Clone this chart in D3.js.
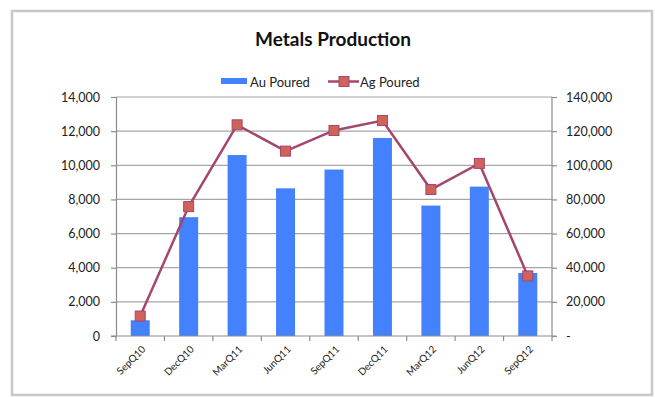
<!DOCTYPE html>
<html><head><meta charset="utf-8">
<script src="https://cdn.jsdelivr.net/npm/d3@7"></script>
<style>
html,body{margin:0;padding:0;background:#fff;}
svg{display:block;font-family:Lato,"Open Sans",sans-serif;}
</style></head>
<body><svg id="c" width="655" height="397"></svg>
<script>
const categories = ["SepQ10","DecQ10","MarQ11","JunQ11","SepQ11","DecQ11","MarQ12","JunQ12","SepQ12"];
const auPoured = [920, 6960, 10600, 8650, 9750, 11600, 7640, 8750, 3690];
const agPoured = [11700, 75800, 123700, 108300, 120400, 126200, 85800, 101100, 35200];
const leftTicks = [0,2000,4000,6000,8000,10000,12000,14000];
const rightTicks = [0,20000,40000,60000,80000,100000,120000,140000];
const title = "Metals Production";
const seriesNames = ["Au Poured","Ag Poured"];

const svg = d3.select("#c");
const m = {l:116, r:552, t:97, b:336};
const barColor = "#4381fd", lineColor = "#a4466e", markerFill = "#cf6359";

// chart border
svg.append("rect").attr("x",12).attr("y",11).attr("width",640).attr("height",384)
  .attr("fill","#fff").attr("stroke","#c8c8c8").attr("stroke-width",2.5);

const xb = d3.scaleBand().domain(categories).range([m.l,m.r]);
const yL = d3.scaleLinear().domain([0,14000]).range([m.b,m.t]);
const yR = d3.scaleLinear().domain([0,140000]).range([m.b,m.t]);

// gridlines
svg.append("g").selectAll("line").data(leftTicks.slice(1)).join("line")
  .attr("x1",m.l).attr("x2",m.r).attr("y1",d=>yL(d)).attr("y2",d=>yL(d))
  .attr("stroke","#a6a6a6").attr("stroke-width",1.2);

const fmt = d3.format(",");
// left axis
const gl = svg.append("g").attr("transform",`translate(${m.l},0)`)
  .call(d3.axisLeft(yL).tickValues(leftTicks).tickFormat(fmt).tickSize(5).tickPadding(11));
// right axis
const gr = svg.append("g").attr("transform",`translate(${m.r},0)`)
  .call(d3.axisRight(yR).tickValues(rightTicks).tickFormat(d=>d===0?"-":fmt(d)).tickSize(5).tickPadding(9));
[gl,gr].forEach(g=>{
  g.selectAll("path,line").attr("stroke","#8c8c8c").attr("stroke-width",1.2);
  g.selectAll("text").attr("fill","#222").style("font-size","12.5px").style("font-family","Lato,'Open Sans',sans-serif");
});
gr.select(".domain").remove();
svg.append("line").attr("x1",m.r).attr("x2",m.r).attr("y1",m.t).attr("y2",m.b).attr("stroke","#8c8c8c").attr("stroke-width",1.2);

// bars
svg.append("g").selectAll("rect").data(auPoured).join("rect")
  .attr("x",(d,i)=>xb(categories[i])+xb.bandwidth()/2-9.5)
  .attr("width",19)
  .attr("y",d=>yL(d)).attr("height",d=>m.b-yL(d))
  .attr("fill",barColor);

// x axis
const gx = svg.append("g").attr("transform",`translate(0,${m.b})`);
gx.append("line").attr("x1",m.l-5).attr("x2",m.r+4).attr("stroke","#8c8c8c").attr("stroke-width",1.2);
const boundaries = d3.range(categories.length+1).map(i=>m.l+i*xb.step());
gx.selectAll("line.t").data(boundaries).join("line").attr("class","t")
  .attr("x1",d=>d).attr("x2",d=>d).attr("y1",0).attr("y2",5).attr("stroke","#8c8c8c").attr("stroke-width",1.2);
gx.selectAll("text").data(categories).join("text")
  .attr("transform",d=>`translate(${xb(d)+xb.bandwidth()/2+6},${14}) rotate(-45)`)
  .attr("text-anchor","end").attr("fill","#222")
  .style("font-size","10px").text(d=>d);

// line
const line = d3.line().x((d,i)=>xb(categories[i])+xb.bandwidth()/2).y(d=>yR(d));
svg.append("path").datum(agPoured).attr("d",line).attr("fill","none")
  .attr("stroke",lineColor).attr("stroke-width",2.5);
svg.append("g").selectAll("rect").data(agPoured).join("rect")
  .attr("x",(d,i)=>xb(categories[i])+xb.bandwidth()/2-5).attr("y",d=>yR(d)-5)
  .attr("width",10).attr("height",10).attr("fill",markerFill).attr("stroke",lineColor).attr("stroke-width",1);

// title
svg.append("text").attr("x",333).attr("y",46).attr("text-anchor","middle")
  .style("font-size","19px").style("font-weight","bold").attr("fill","#111").text(title);

// legend
const lg = svg.append("g");
lg.append("rect").attr("x",221).attr("y",78).attr("width",26).attr("height",6).attr("fill",barColor);
lg.append("text").attr("x",250).attr("y",86.5).style("font-size","13px").attr("fill","#222").text(seriesNames[0]);
lg.append("line").attr("x1",328).attr("x2",359).attr("y1",81.5).attr("y2",81.5).attr("stroke",lineColor).attr("stroke-width",2.5);
lg.append("rect").attr("x",339).attr("y",76.5).attr("width",10).attr("height",10).attr("fill",markerFill).attr("stroke",lineColor);
lg.append("text").attr("x",360).attr("y",86.5).style("font-size","13px").attr("fill","#222").text(seriesNames[1]);
</script></body></html>
